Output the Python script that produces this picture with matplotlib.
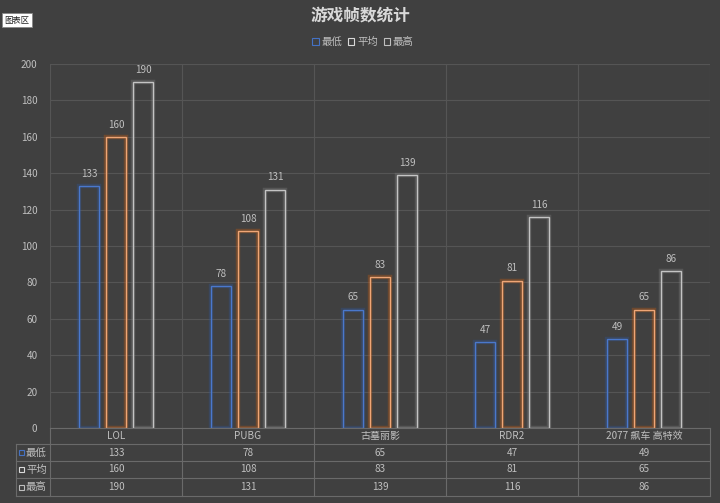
import numpy as np
import matplotlib.pyplot as plt
import matplotlib.patheffects as pe
from matplotlib.patches import Rectangle

plt.rcParams['font.family'] = ['Noto Sans CJK SC', 'DejaVu Sans']

# data
games = ['LOL', 'PUBG', '古墓丽影', 'RDR2', '2077 飙车 高特效']
series = ['最低', '平均', '最高']
fps_min = [133, 78, 65, 47, 49]
fps_avg = [160, 108, 83, 81, 65]
fps_max = [190, 131, 139, 116, 86]
values = [fps_min, fps_avg, fps_max]

bg = '#404040'
grid_c = '#555555'
txt_c = '#bfbfbf'
edge_cols = ['#4a78cc', '#efa676', '#c4c4c4']
glow_cols = ['#2f5597', '#c55a11', '#808080']
key_cols = ['#4472c4', '#d9d9d9', '#bfbfbf']

W, H = 720, 503
fig = plt.figure(figsize=(7.2, 5.03), dpi=100, facecolor=bg)

# plot area in pixel terms
left, right, top, bottom = 50, 710, 64, 428
ax = fig.add_axes([left / W, 1 - bottom / H, (right - left) / W, (bottom - top) / H])
ax.set_facecolor(bg)

x = np.arange(len(games))
bw = 0.145
step = 0.205
for i, vals in enumerate(values):
    pos = x + (i - 1) * step
    bars = ax.bar(pos, vals, width=bw, facecolor='none', edgecolor=edge_cols[i],
                  linewidth=1.0, zorder=3, label=series[i])
    for b in bars:
        b.set_path_effects([pe.Stroke(linewidth=3.2, foreground=glow_cols[i], alpha=0.35),
                            pe.Normal()])
    for p, v in zip(pos, vals):
        ax.text(p, v + 4, str(v), ha='center', va='bottom', color=txt_c, fontsize=7.2)

ax.set_xlim(-0.5, len(games) - 0.5)
ax.set_ylim(0, 200)
ax.set_yticks(range(0, 201, 20))
ax.set_xticks([])
ax.set_xticks(np.arange(-0.5, len(games), 1), minor=True)
ax.tick_params(axis='y', length=0, colors=txt_c, labelsize=7.2, pad=9)
ax.tick_params(axis='x', which='both', length=0, labelbottom=False)
ax.grid(axis='y', color=grid_c, linewidth=0.8, zorder=0)
ax.grid(axis='x', which='minor', color=grid_c, linewidth=0.8, zorder=0)
for s in ax.spines.values():
    s.set_visible(False)

# legend at top
handles = [Rectangle((0, 0), 1, 1, facecolor='none', edgecolor=c, linewidth=0.8) for c in key_cols]
leg = fig.legend(handles, series, loc='center', bbox_to_anchor=(363 / W, 1 - 42 / H), ncol=3,
                 frameon=False, handlelength=0.6, handleheight=0.6, handletextpad=0.25,
                 columnspacing=0.6, fontsize=7.5)
for t in leg.get_texts():
    t.set_color(txt_c)

fig.text(360 / W, 1 - 15 / H, '游戏帧数统计', ha='center', va='center',
         fontsize=12, fontweight='bold', color='#d9d9d9')

# "图表区" tooltip box
fig.text(4 / W, 1 - 20 / H, '图表区', ha='left', va='center', fontsize=6, color='#222222',
         bbox=dict(boxstyle='square,pad=0.3', facecolor='white', edgecolor='#888888', linewidth=0.6))

# data table under the plot, in pixel coordinates
ov = fig.add_axes([0, 0, 1, 1], facecolor='none')
ov.set_xlim(0, W)
ov.set_ylim(H, 0)
ov.axis('off')

row_y = [428, 444, 461, 478, 496]
tab_left = 16
cat_w = (right - left) / len(games)
line_c = '#6a6a6a'
ov.plot([left, right], [row_y[0], row_y[0]], color=line_c, lw=0.8)
for yy in row_y[1:]:
    ov.plot([tab_left, right], [yy, yy], color=line_c, lw=0.8)
ov.plot([tab_left, tab_left], [row_y[1], row_y[-1]], color=line_c, lw=0.8)
for k in range(len(games) + 1):
    xx = left + k * cat_w
    ov.plot([xx, xx], [row_y[0], row_y[-1]], color=line_c, lw=0.8)

for j, g in enumerate(games):
    cx = left + (j + 0.5) * cat_w
    ov.text(cx, (row_y[0] + row_y[1]) / 2, g, ha='center', va='center', color=txt_c, fontsize=7.2)
    for i, vals in enumerate(values):
        cy = (row_y[i + 1] + row_y[i + 2]) / 2
        ov.text(cx, cy, str(vals[j]), ha='center', va='center', color=txt_c, fontsize=7.2)

for i, name in enumerate(series):
    cy = (row_y[i + 1] + row_y[i + 2]) / 2
    ov.add_patch(Rectangle((19, cy - 2.5), 5, 5, facecolor='none', edgecolor=key_cols[i], lw=0.8))
    ov.text(26, cy, name, ha='left', va='center', color=txt_c, fontsize=7.5)

fig.savefig('out.png', dpi=100, facecolor=bg)
